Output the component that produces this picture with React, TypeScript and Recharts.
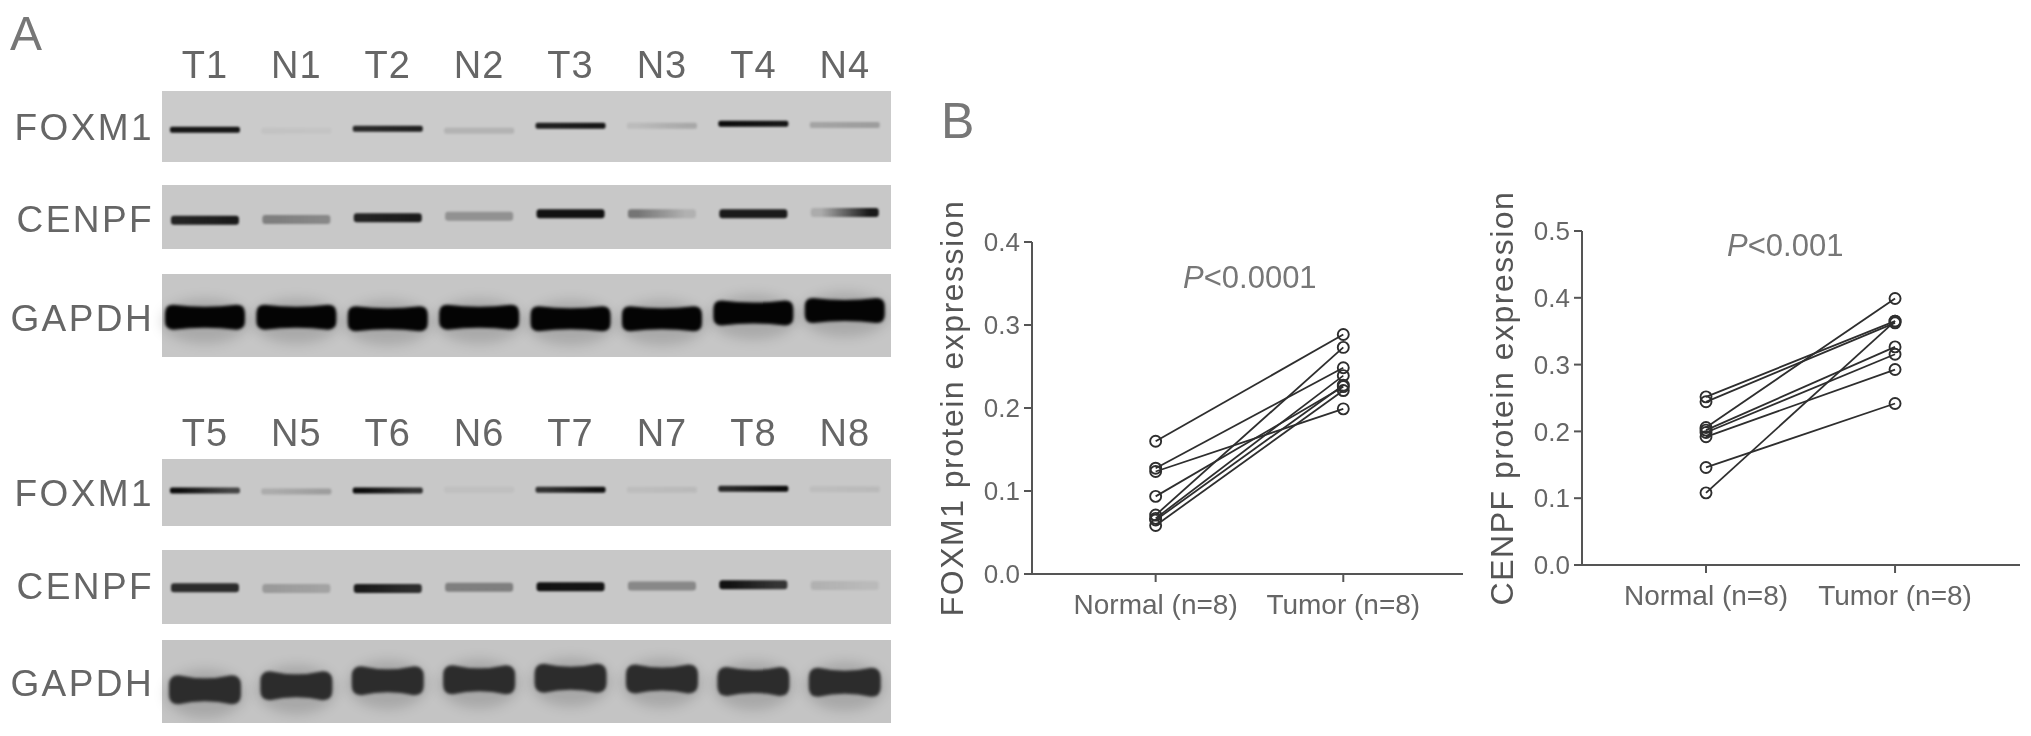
import { CartesianGrid, Line, LineChart, Scatter, ScatterChart, XAxis, YAxis } from 'recharts';

const FONT = '"Liberation Sans", Arial, sans-serif';
const TEXT = '#666';

// Panel A - band position in the strip (0 top, 1 bottom), and band signal for left/right half of each lane
const lanesTop = ['T1', 'N1', 'T2', 'N2', 'T3', 'N3', 'T4', 'N4'];
const lanesBottom = ['T5', 'N5', 'T6', 'N6', 'T7', 'N7', 'T8', 'N8'];

const foxm1TopLevel = [0.545, 0.56, 0.53, 0.56, 0.49, 0.49, 0.46, 0.48];
const foxm1TopLeft = [0.95, 0.04, 0.85, 0.12, 0.9, 0.08, 1, 0.2];
const foxm1TopRight = [0.95, 0.03, 0.9, 0.12, 0.95, 0.18, 0.95, 0.24];

const cenpfTopLevel = [0.55, 0.54, 0.51, 0.49, 0.45, 0.45, 0.45, 0.43];
const cenpfTopLeft = [0.9, 0.4, 0.9, 0.3, 1, 0.45, 0.95, 0.15];
const cenpfTopRight = [0.95, 0.35, 0.95, 0.3, 1, 0.12, 0.95, 0.95];

const gapdhTopLevel = [0.52, 0.52, 0.54, 0.52, 0.54, 0.54, 0.47, 0.44];
const gapdhTopSignal = [1, 1, 1, 1, 1, 1, 1, 1];

const foxm1BottomLevel = [0.47, 0.485, 0.47, 0.46, 0.46, 0.46, 0.445, 0.45];
const foxm1BottomLeft = [1, 0.15, 1, 0.04, 0.8, 0.05, 0.85, 0.05];
const foxm1BottomRight = [0.7, 0.22, 0.8, 0.04, 0.98, 0.07, 1, 0.07];

const cenpfBottomLevel = [0.51, 0.52, 0.52, 0.505, 0.495, 0.485, 0.47, 0.48];
const cenpfBottomLeft = [0.85, 0.25, 0.95, 0.4, 1, 0.35, 1, 0.12];
const cenpfBottomRight = [0.85, 0.2, 0.85, 0.4, 0.98, 0.35, 0.8, 0.07];

const gapdhBottomLevel = [0.6, 0.55, 0.49, 0.48, 0.46, 0.47, 0.5, 0.51];
const gapdhBottomSignal = [1, 1, 1, 1, 1, 1, 1, 1];

// Panel B
const groups = ['Normal (n=8)', 'Tumor (n=8)'];
const foxm1Normal = [0.16, 0.1275, 0.1235, 0.0935, 0.071, 0.067, 0.065, 0.0585];
const foxm1Tumor = [0.2885, 0.2485, 0.199, 0.2257, 0.273, 0.239, 0.2275, 0.221];
const foxm1Ticks = [0, 0.1, 0.2, 0.3, 0.4];

const cenpfNormal = [0.2517, 0.2443, 0.2059, 0.2019, 0.1984, 0.1919, 0.146, 0.108];
const cenpfTumor = [0.365, 0.3625, 0.399, 0.3265, 0.3155, 0.2926, 0.2418, 0.365];
const cenpfTicks = [0, 0.1, 0.2, 0.3, 0.4, 0.5];

type BlotProps = {
  id: string;
  name: string;
  top: number;
  stripHeight: number;
  labelShift: number;
  level: number[];
  left: number[];
  right: number[];
  bandWidth: number;
  bandHeight: number;
  pinch: number;
  bandColor: string;
  stripColor: string;
  lanes?: string[];
};

const laneBands = (level: number[], left: number[], right: number[]) =>
  level.map((lv, i) => ({ x: i, level: lv, left: left[i], right: right[i] }));

function Blot({ id, name, top, stripHeight, labelShift, level, left, right, bandWidth, bandHeight, pinch, bandColor, stripColor, lanes }: BlotProps) {
  const headHeight = lanes ? 50 : 0;
  const thick = bandHeight > 12;
  return (
    <div style={{ position: 'absolute', left: 0, top: top - headHeight, filter: 'blur(0.5px)' }}>
      <ScatterChart
        width={891}
        height={stripHeight + headHeight}
        margin={{ top: 0, right: 0, bottom: 0, left: 0 }}
      >
        <CartesianGrid horizontal={false} vertical={false} fill={stripColor} />
        <XAxis
          xAxisId={0}
          type="number"
          dataKey="x"
          orientation="top"
          domain={[-0.47, 7.506]}
          ticks={[0, 1, 2, 3, 4, 5, 6, 7]}
          interval={0}
          hide={!lanes}
          height={headHeight}
          axisLine={false}
          tickLine={false}
          tickMargin={7}
          tickFormatter={(v: number) => (lanes ? lanes[v] : '')}
          tick={{ fontFamily: FONT, fontSize: 38, fill: TEXT, letterSpacing: 1 }}
        />
        <YAxis
          type="number"
          dataKey="level"
          reversed
          domain={[0, 1]}
          ticks={[0.5]}
          width={162}
          axisLine={false}
          tickLine={false}
          tickFormatter={() => name}
          tick={{ fontFamily: FONT, fontSize: 37, fill: TEXT, letterSpacing: 2.4, dy: labelShift }}
        />
        <Scatter
          data={laneBands(level, left, right)}
          isAnimationActive={false}
          shape={(p: any) => {
            const gid = `${id}-${p.payload.x}`;
            const x0 = p.cx - bandWidth / 2;
            const x1 = p.cx + bandWidth / 2;
            const y0 = p.cy - bandHeight / 2;
            const y1 = p.cy + bandHeight / 2;
            const r = bandHeight / 3;
            const path =
              `M${x0 + r} ${y0} Q${p.cx} ${y0 + pinch * 2} ${x1 - r} ${y0} Q${x1} ${y0} ${x1} ${y0 + r} ` +
              `L${x1} ${y1 - r} Q${x1} ${y1} ${x1 - r} ${y1} Q${p.cx} ${y1 - pinch * 2} ${x0 + r} ${y1} ` +
              `Q${x0} ${y1} ${x0} ${y1 - r} L${x0} ${y0 + r} Q${x0} ${y0} ${x0 + r} ${y0} Z`;
            return (
              <g>
                <defs>
                  <linearGradient id={gid} x1="0" y1="0" x2="1" y2="0">
                    <stop offset="15%" stopColor={bandColor} stopOpacity={p.payload.left} />
                    <stop offset="85%" stopColor={bandColor} stopOpacity={p.payload.right} />
                  </linearGradient>
                </defs>
                {thick && (
                  <ellipse
                    cx={p.cx}
                    cy={p.cy + 4}
                    rx={bandWidth / 2 + 4}
                    ry={bandHeight / 2 + 10}
                    fill="#000"
                    fillOpacity={0.14}
                    style={{ filter: 'blur(6px)' }}
                  />
                )}
                <path d={path} fill={`url(#${gid})`} style={{ filter: `blur(${thick ? 1.5 : 1.1}px)` }} />
              </g>
            );
          }}
        />
      </ScatterChart>
    </div>
  );
}

type PairedProps = {
  title: string;
  left: number;
  top: number;
  plotHeight: number;
  plotWidth: number;
  normal: number[];
  tumor: number[];
  ticks: number[];
  xDomain: number[];
};

function PairedChart({ title, left, top, plotHeight, plotWidth, normal, tumor, ticks, xDomain }: PairedProps) {
  const table = [0, 1].map((g) => {
    const row: Record<string, number> = { x: g + 1 };
    normal.forEach((_, i) => {
      row[`s${i}`] = g === 0 ? normal[i] : tumor[i];
    });
    return row;
  });
  const line = '#2e2e2e';
  return (
    <div style={{ position: 'absolute', left, top: top - 50, filter: 'blur(0.5px)' }}>
      <LineChart
        width={102 + plotWidth}
        height={50 + plotHeight + 60}
        data={table}
        margin={{ top: 50, right: 0, bottom: 0, left: 0 }}
      >
        <XAxis
          type="number"
          dataKey="x"
          domain={xDomain}
          ticks={[1, 2]}
          height={60}
          stroke="#555"
          strokeWidth={2}
          tickSize={8}
          tickMargin={12}
          tickFormatter={(v: number) => groups[v - 1]}
          tick={{ fontFamily: FONT, fontSize: 28, fill: TEXT }}
        />
        <YAxis
          type="number"
          domain={[ticks[0], ticks[ticks.length - 1]]}
          ticks={ticks}
          width={102}
          stroke="#555"
          strokeWidth={2}
          tickSize={8}
          tickMargin={4}
          tickFormatter={(v: number) => v.toFixed(1)}
          tick={{ fontFamily: FONT, fontSize: 26, fill: TEXT }}
          label={{
            value: title,
            angle: -90,
            position: 'insideLeft',
            offset: 22,
            style: { textAnchor: 'middle', fontFamily: FONT, fontSize: 32, fill: '#555', letterSpacing: 1.5 },
          }}
        />
        {normal.map((_, i) => (
          <Line
            key={i}
            dataKey={`s${i}`}
            stroke={line}
            strokeWidth={1.8}
            isAnimationActive={false}
            dot={{ r: 5.5, fill: 'none', stroke: line, strokeWidth: 1.9 }}
          />
        ))}
      </LineChart>
    </div>
  );
}

const Caption = ({ x, y, size, children }: { x: number; y: number; size: number; children: any }) => (
  <div
    style={{
      position: 'absolute',
      left: x,
      top: y,
      fontFamily: FONT,
      fontSize: size,
      lineHeight: 1,
      color: '#777',
      whiteSpace: 'nowrap',
      filter: 'blur(0.4px)',
    }}
  >
    {children}
  </div>
);

export default function App() {
  return (
    <div style={{ position: 'absolute', left: 0, top: 0, width: 2031, height: 736, background: '#fff', overflow: 'hidden' }}>
      <Caption x={10} y={10} size={48}>A</Caption>
      <Caption x={941} y={96} size={50}>B</Caption>

      <Blot id="f1" name="FOXM1" top={91} stripHeight={71} labelShift={0} level={foxm1TopLevel} left={foxm1TopLeft} right={foxm1TopRight} bandWidth={70} bandHeight={6} pinch={0} bandColor="#0c0c0c" stripColor="#cbcbcb" lanes={lanesTop} />
      <Blot id="c1" name="CENPF" top={185} stripHeight={64} labelShift={2} level={cenpfTopLevel} left={cenpfTopLeft} right={cenpfTopRight} bandWidth={68} bandHeight={9} pinch={0} bandColor="#111" stripColor="#c8c8c8" />
      <Blot id="g1" name="GAPDH" top={274} stripHeight={83} labelShift={2} level={gapdhTopLevel} left={gapdhTopSignal} right={gapdhTopSignal} bandWidth={80} bandHeight={25} pinch={2} bandColor="#040404" stripColor="#c6c6c6" />

      <Blot id="f2" name="FOXM1" top={459} stripHeight={67} labelShift={0} level={foxm1BottomLevel} left={foxm1BottomLeft} right={foxm1BottomRight} bandWidth={70} bandHeight={6} pinch={0} bandColor="#0c0c0c" stripColor="#c8c8c8" lanes={lanesBottom} />
      <Blot id="c2" name="CENPF" top={550} stripHeight={74} labelShift={-1} level={cenpfBottomLevel} left={cenpfBottomLeft} right={cenpfBottomRight} bandWidth={68} bandHeight={9} pinch={0} bandColor="#111" stripColor="#c8c8c8" />
      <Blot id="g2" name="GAPDH" top={640} stripHeight={83} labelShift={1} level={gapdhBottomLevel} left={gapdhBottomSignal} right={gapdhBottomSignal} bandWidth={72} bandHeight={29} pinch={3} bandColor="#2c2c2c" stripColor="#c4c4c4" />

      <PairedChart title="FOXM1 protein expression" left={930} top={242} plotHeight={332} plotWidth={431} normal={foxm1Normal} tumor={foxm1Tumor} ticks={foxm1Ticks} xDomain={[0.341, 2.638]} />
      <PairedChart title="CENPF protein expression" left={1480} top={231} plotHeight={334} plotWidth={438} normal={cenpfNormal} tumor={cenpfTumor} ticks={cenpfTicks} xDomain={[0.344, 2.661]} />

      <Caption x={1183} y={262} size={31}><i>P</i>&lt;0.0001</Caption>
      <Caption x={1727} y={230} size={31}><i>P</i>&lt;0.001</Caption>
    </div>
  );
}
